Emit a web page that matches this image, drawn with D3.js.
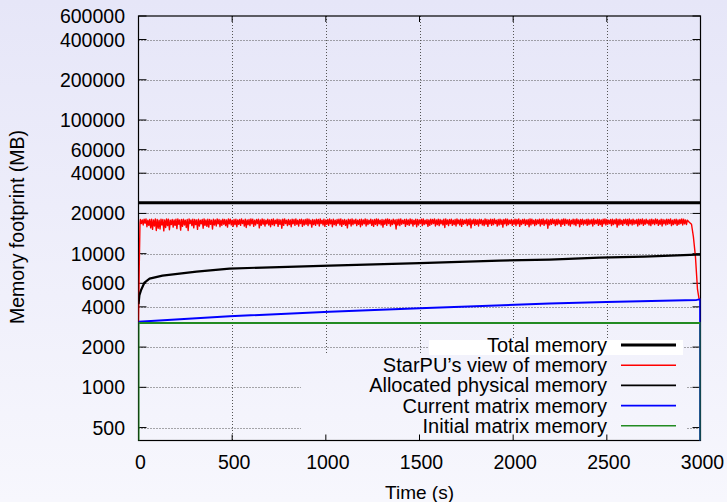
<!DOCTYPE html>
<html>
<head>
<meta charset="utf-8">
<script src="https://cdn.jsdelivr.net/npm/d3@7"></script>
<style>
  html, body { margin: 0; padding: 0; }
  svg { display: block; }
  text { font-family: "Liberation Sans", Arial, sans-serif; fill: #000; }
</style>
</head>
<body>
<svg id="chart" width="727" height="502"></svg>
<script>
// ---------------- DATA ----------------
const xTicks = [0, 500, 1000, 1500, 2000, 2500, 3000];
const xGridTicks = [500, 1000, 1500, 2000, 2500];
const yTicks = [500, 1000, 2000, 4000, 6000, 10000, 20000, 40000, 60000, 100000, 200000, 400000, 600000];
const yDomain = [400, 600000];
const xDomain = [0, 3000];

const legendLabels = ["Total memory", "StarPU\u2019s view of memory", "Allocated physical memory", "Current matrix memory", "Initial matrix memory"];
const seriesColors = ["#000000", "#ff0000", "#000000", "#0000ff", "#228b22"];
const seriesWidths = [3, 1.4, 2.2, 2, 2];

// Total memory (MB)
const totalMemory = [[0, 24000], [3000, 24000]];

// StarPU's view of memory: ramp-up, then peaks (t = 10, 20, ... 2930) and troughs (t = 15, 25, ... 2925), then ramp-down
const starpuStart = [[0, 3100], [4, 8000], [8, 17000]];
const starpuPeakT0 = 10, starpuTroughT0 = 15, starpuStep = 10;
const starpuPeaks = [
  18000,17900,18100,18200,17800,18000,18100,17900,18200,18000,17800,18100,18000,17900,18200,18100,17800,18000,17900,18100,
  18200,17900,18000,18100,17800,18000,18200,17900,18100,18000,17900,18100,17800,18000,18200,17900,18100,18000,17800,18100,
  17900,18200,18000,17800,18100,18000,17900,18200,18100,17800,18000,18100,17900,18000,18200,17800,18100,17900,18000,18200,
  18100,17800,18000,18100,17900,18200,18000,17800,18100,17900,18000,18200,17800,18100,18000,17900,18100,18200,17800,18000,
  17900,18100,18000,18200,17800,18000,18100,17900,18000,18200,18100,17800,18000,17900,18100,18000,18200,17800,18100,17900,
  18000,18200,17900,18100,17800,18000,18100,18200,17900,18000,17800,18100,18000,18200,17900,18100,17800,18000,18100,17900,
  18200,18000,17800,18100,17900,18000,18200,18100,17800,18000,17900,18100,18200,18000,17800,18100,17900,18000,18100,18200,
  17800,18000,18100,17900,18200,18000,17800,18100,18000,17900,18100,18200,17800,18000,17900,18100,18000,18200,17900,18100,
  18000,17800,18100,18200,17900,18000,18100,17800,18000,18200,17900,18100,18000,17800,18100,18000,18200,17900,18100,18000,
  17900,18100,18000,17800,18200,18000,17900,18100,18000,18200,17800,18000,18100,17900,18000,18200,18100,17800,18000,17900,
  18100,18000,18200,17800,18000,18100,17900,18000,18200,18100,17800,18000,17900,18100,18000,18200,17800,18100,17900,18000,
  18200,17900,18000,18100,17800,18000,18200,18100,17900,18000,17800,18100,18000,18200,17900,18000,18100,17800,18000,18100,
  17900,18000,18200,17800,18100,18000,17900,18100,18200,18000,17800,18000,18100,17900,18200,18000,18100,17800,18000,18100,
  18000,18200,17900,18100,17800,18000,18100,18000,18200,17900,18100,17800,18000,18100,17900,18200,18000,17800,18100,18000,
  17900,18100,18000,18200,17800,18000,18100,17900,18000,18200,18100,17900,17800
];
const starpuTroughs = [
  16800,16400,16900,15900,16300,15600,15200,16100,14900,15500,15300,16400,14800,15700,16200,15100,16500,15800,16300,15400,
  16600,15000,16000,16400,15700,14900,16800,16200,15600,16500,15200,16100,16700,15500,16300,16000,15800,16600,15300,16400,
  16100,16700,15900,16300,16600,16200,15800,16700,16400,16000,16500,15900,16600,16300,16800,16100,15700,16500,16200,16700,
  16000,16400,16800,15600,16300,16600,16100,16700,16400,15900,16500,16200,16800,16000,16600,15500,16300,16800,16200,16500,
  15900,16700,16300,16600,16100,16800,16000,16400,16600,16200,16700,15800,16500,16300,16700,16100,16800,16400,16000,16600,
  16300,16700,15900,16500,16200,16800,16400,16000,16600,16300,15600,16700,16100,16500,16800,16200,16600,15900,16400,16700,
  16100,16500,16800,16300,16000,16600,16200,16700,16400,15800,16600,16300,16800,16100,16500,16700,15300,16400,16200,16600,
  16800,16000,16500,16300,16700,16100,16600,15900,16400,16800,16200,16500,16700,16000,16300,16600,16800,16100,16500,16200,
  16700,16400,15700,16600,16200,16800,16300,16500,16100,16700,16400,16000,16600,16800,16200,16500,15600,16700,16300,16600,
  16100,16800,16400,16200,16600,16000,16700,16300,16500,16800,16100,16400,16600,15800,16700,16200,16500,16800,16300,16600,
  16200,16700,16000,16500,16800,16300,16600,15900,16400,16700,16200,16500,16800,16100,16600,16300,16700,15500,16400,16600,
  16800,16200,16500,16700,16000,16600,16300,16800,16400,16100,16700,16500,16200,16800,15900,16600,16400,16700,16300,16500,
  16700,16100,16600,16800,16300,16500,16000,16700,16400,16600,16800,16200,16500,16700,15800,16400,16600,16300,16800,16500,
  16200,16700,16400,16600,16800,16100,16500,16700,16300,16600,16800,16400,16200,16700,16500,16800,16300,16600,16100,16700,
  16400,16600,16800,16200,16500,16700,16300,16600,16800,16400,16700,16500
];
const starpuEnd = [[2940, 17200], [2952, 16600], [2962, 13400], [2973, 9500], [2984, 5400], [2992, 4600], [2998, 4550]];

// Allocated physical memory
const allocatedMemory = [[0, 4200], [5, 4900], [15, 5400], [32, 6080], [59, 6500], [128, 6850], [310, 7340], [486, 7730],
  [662, 7870], [1020, 8130], [1500, 8500], [1927, 8870], [2195, 9020], [2461, 9330], [2700, 9500], [2979, 9830], [3000, 9850]];

// Current matrix memory
const currentMatrix = [[0, 3090], [486, 3400], [1020, 3670], [1500, 3900], [2194, 4240], [2497, 4340], [2979, 4510], [2998, 4550], [2999, 1], [3000, 1]];

// Initial matrix memory
const initialMatrix = [[0, 1], [0, 3030], [3000, 3030], [3000, 1]];

// ---------------- LAYOUT ----------------
const W = 727, H = 502;
const pLeft = 138.5, pRight = 700.5, pTop = 16, pBottom = 440.5;

const svg = d3.select("#chart");
const defs = svg.append("defs");
const grad = defs.append("linearGradient").attr("id", "bg")
  .attr("gradientUnits", "userSpaceOnUse").attr("x1", 0).attr("y1", 0).attr("x2", 0).attr("y2", H);
grad.append("stop").attr("offset", "0%").attr("stop-color", "#e6e6f8");
grad.append("stop").attr("offset", "100%").attr("stop-color", "#f7f7fd");
defs.append("clipPath").attr("id", "plotclip").append("rect")
  .attr("x", pLeft).attr("y", pTop).attr("width", pRight - pLeft).attr("height", pBottom - pTop);

svg.append("rect").attr("width", W).attr("height", H).attr("fill", "url(#bg)");

const x = d3.scaleLinear().domain(xDomain).range([pLeft, pRight]);
const y = d3.scaleLog().domain(yDomain).range([pBottom, pTop]);

// Grid
const grid = svg.append("g").attr("stroke", "#555").attr("stroke-width", 1).attr("stroke-dasharray", "1,2");
grid.selectAll(".gy").data(yTicks.filter(v => v < yDomain[1])).enter().append("line")
  .attr("x1", pLeft).attr("x2", pRight).attr("y1", d => Math.round(y(d)) + 0.5).attr("y2", d => Math.round(y(d)) + 0.5);
grid.selectAll(".gx").data(xGridTicks).enter().append("line")
  .attr("y1", pTop).attr("y2", pBottom).attr("x1", d => Math.round(x(d)) + 0.5).attr("x2", d => Math.round(x(d)) + 0.5);

// Legend blanking areas
svg.append("rect").attr("x", 301).attr("y", 354).attr("width", 386).attr("height", pBottom - 354).attr("fill", "url(#bg)");
svg.append("rect").attr("x", 429).attr("y", 340).attr("width", 254).attr("height", 15).attr("fill", "#ffffff");

// Border
svg.append("rect").attr("x", pLeft).attr("y", pTop).attr("width", pRight - pLeft).attr("height", pBottom - pTop)
  .attr("fill", "none").attr("stroke", "#000").attr("stroke-width", 1.2);

// Ticks (inner, mirrored)
const ticks = svg.append("g").attr("stroke", "#000").attr("stroke-width", 1);
ticks.selectAll(".tyl").data(yTicks).enter().append("line")
  .attr("x1", pLeft).attr("x2", pLeft + 8).attr("y1", d => y(d)).attr("y2", d => y(d));
ticks.selectAll(".tyr").data(yTicks).enter().append("line")
  .attr("x1", pRight).attr("x2", pRight - 8).attr("y1", d => y(d)).attr("y2", d => y(d));
ticks.selectAll(".txb").data(xTicks).enter().append("line")
  .attr("x1", d => x(d)).attr("x2", d => x(d)).attr("y1", pBottom).attr("y2", pBottom - 6);
ticks.selectAll(".txt").data(xTicks).enter().append("line")
  .attr("x1", d => x(d)).attr("x2", d => x(d)).attr("y1", pTop).attr("y2", pTop + 6);

// Tick labels
svg.append("g").selectAll("text").data(yTicks).enter().append("text")
  .attr("x", 125).attr("y", d => y(d)).attr("dy", "0.36em").attr("text-anchor", "end")
  .attr("font-size", "19.5px").text(d => d);
svg.append("g").selectAll("text").data(xTicks).enter().append("text")
  .attr("x", d => x(d) + 2).attr("y", 469).attr("text-anchor", "middle")
  .attr("font-size", "19.5px").text(d => d);

// Axis titles
svg.append("text").attr("x", x(1500)).attr("y", 499).attr("text-anchor", "middle")
  .attr("font-size", "19px").text("Time (s)");
svg.append("text").attr("transform", "translate(24,227) rotate(-90)").attr("text-anchor", "middle")
  .attr("font-size", "19.5px").text("Memory footprint (MB)");

// Series
const line = d3.line().x(d => x(d[0])).y(d => y(Math.max(d[1], 1e-3)));
const starpuMiddle = [];
for (let i = 0; i < Math.max(starpuPeaks.length, starpuTroughs.length); i++) {
  if (i < starpuPeaks.length) starpuMiddle.push([starpuPeakT0 + i * starpuStep, starpuPeaks[i]]);
  if (i < starpuTroughs.length) starpuMiddle.push([starpuTroughT0 + i * starpuStep, starpuTroughs[i]]);
}
const starpuSeries = starpuStart.concat(starpuMiddle).concat(starpuEnd);
const allSeries = [totalMemory, starpuSeries, allocatedMemory, currentMatrix, initialMatrix];

const plot = svg.append("g").attr("clip-path", "url(#plotclip)");
allSeries.forEach((s, i) => {
  plot.append("path").datum(s).attr("d", line)
    .attr("fill", "none").attr("stroke", seriesColors[i]).attr("stroke-width", seriesWidths[i])
    .attr("stroke-linejoin", "round");
});

// Legend
const leg = svg.append("g");
legendLabels.forEach((lab, i) => {
  const by = 352 + i * 20.2;
  leg.append("text").attr("x", 607).attr("y", by).attr("text-anchor", "end")
    .attr("font-size", "20px").text(lab);
  leg.append("line").attr("x1", 621).attr("x2", 676).attr("y1", by - 7).attr("y2", by - 7)
    .attr("stroke", seriesColors[i]).attr("stroke-width", i === 0 ? 3 : 1.6);
});
</script>
</body>
</html>
